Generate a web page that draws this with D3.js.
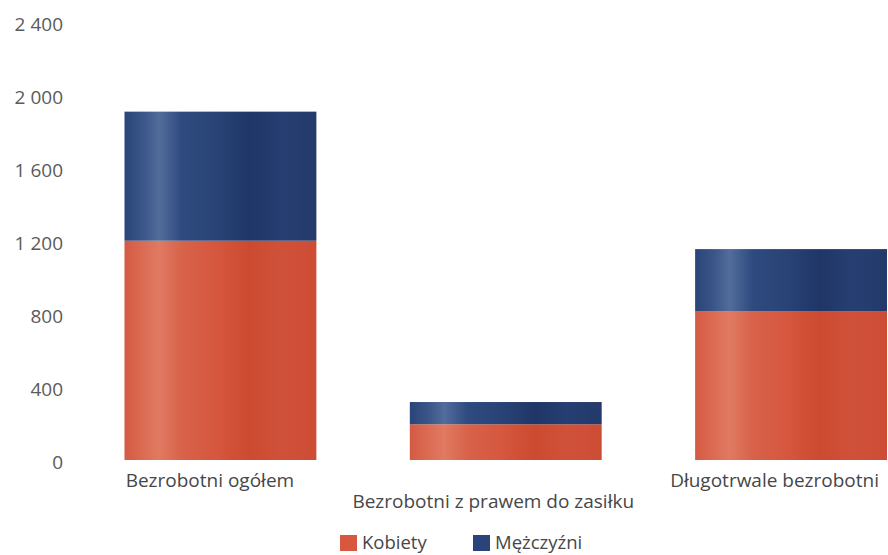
<!DOCTYPE html>
<html><head><meta charset="utf-8">
<script src="https://cdn.jsdelivr.net/npm/d3@7"></script>
<style>
html,body{margin:0;padding:0;background:#fff;}
svg{display:block;font-family:"Open Sans",sans-serif;}
</style></head>
<body><svg id="c" width="888" height="555"></svg>
<script>
const categories = ["Bezrobotni ogółem", "Bezrobotni z prawem do zasiłku", "Długotrwale bezrobotni"];
const seriesNames = ["Kobiety", "Mężczyźni"];
const kobiety = [1203, 196, 817];
const mezczyzni = [708, 122, 340];
const yTicks = [0, 400, 800, 1200, 1600, 2000, 2400];

const svg = d3.select("#c");

const y = d3.scaleLinear().domain([0, 2400]).range([460, 22.5]);
const x = d3.scaleBand().domain(categories).range([124.5, 887]).paddingInner(0.3275).paddingOuter(0);

const fmt = d3.formatLocale({decimal: ",", thousands: " ", grouping: [3], currency: ["", " zł"]}).format(",d");

// gradients
const defs = svg.append("defs");
function grad(id, stops) {
  const g = defs.append("linearGradient").attr("id", id).attr("x1", "0%").attr("x2", "100%").attr("y1", "0%").attr("y2", "0%");
  stops.forEach(s => g.append("stop").attr("offset", s[0]).attr("stop-color", s[1]));
}
grad("gRed", [["0%", "#d45a42"], ["10%", "#dc6c54"], ["18%", "#e07a62"], ["30%", "#d8624a"], ["48%", "#d5573e"], ["65%", "#cc4a30"], ["82%", "#d0513a"], ["100%", "#cd4c34"]]);
grad("gBlue", [["0%", "#2a4477"], ["10%", "#3b5688"], ["18%", "#526c9b"], ["30%", "#2f4a7f"], ["48%", "#294376"], ["65%", "#1f3667"], ["82%", "#263e71"], ["100%", "#233a6b"]]);

const colors = ["url(#gRed)", "url(#gBlue)"];
const legendColors = ["#d8583f", "#2a4477"];

const rows = categories.map((c, i) => ({cat: c, Kobiety: kobiety[i], "Mężczyźni": mezczyzni[i]}));
const stacked = d3.stack().keys(seriesNames)(rows);

svg.append("g").selectAll("g").data(stacked).join("g")
  .attr("fill", (d, i) => colors[i])
  .selectAll("rect").data(d => d).join("rect")
  .attr("x", d => x(d.data.cat))
  .attr("width", x.bandwidth())
  .attr("y", d => y(d[1]))
  .attr("height", d => y(d[0]) - y(d[1]));

// y axis labels
const yAxis = d3.axisLeft(y).tickValues(yTicks).tickFormat(fmt).tickSize(0).tickPadding(0);
const ga = svg.append("g").attr("transform", "translate(63,1.3)").call(yAxis);
ga.select(".domain").remove();
ga.selectAll("text").attr("font-family", "'Open Sans', sans-serif").attr("font-size", 19).attr("fill", "#5a5a5a").attr("dy", "0.36em");

// x labels
const labelShift = [-10.5, -12.5, -16.5];
const xLab = svg.append("g");
xLab.selectAll("text").data(categories).join("text")
  .attr("x", (d, i) => x(d) + x.bandwidth() / 2 + labelShift[i])
  .attr("y", (d, i) => i === 1 ? 508 : 487)
  .attr("text-anchor", "middle")
  .attr("font-size", 19)
  .attr("fill", "#474747")
  .text(d => d);

// legend
const lg = svg.append("g");
const legendX = [340, 473];
seriesNames.forEach((s, i) => {
  lg.append("rect").attr("x", legendX[i]).attr("y", 535).attr("width", 17).attr("height", 16).attr("fill", legendColors[i]);
  lg.append("text").attr("x", legendX[i] + 22).attr("y", 549).attr("font-size", 18.5).attr("fill", "#474747").text(s);
});
</script></body></html>
